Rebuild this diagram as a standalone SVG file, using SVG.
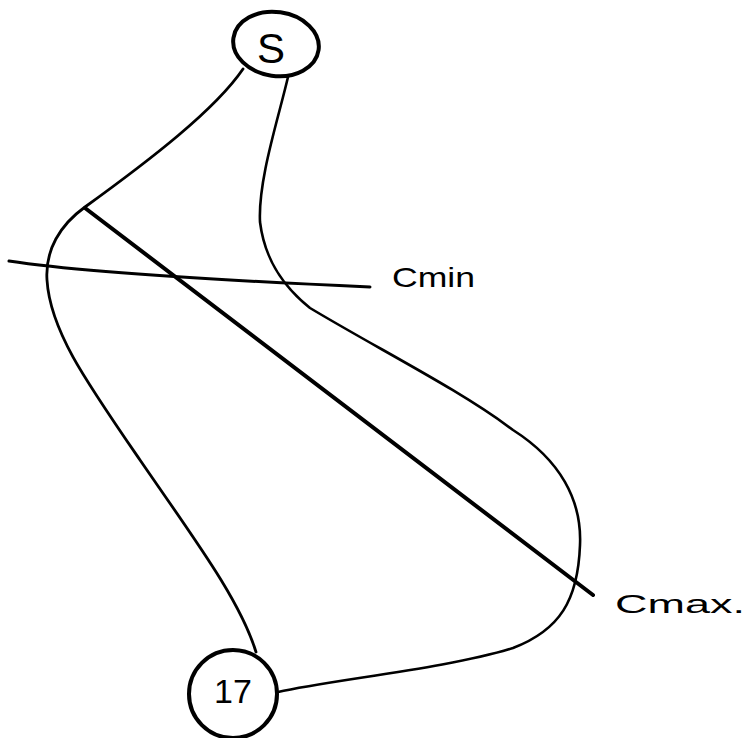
<svg xmlns="http://www.w3.org/2000/svg" width="753" height="738" viewBox="0 0 753 738">
<style>
.node{fill:none;stroke:#000;stroke-width:4}
.edge{fill:none;stroke:#000;stroke-width:2.6;stroke-linecap:round;stroke-linejoin:round}
.cut{fill:none;stroke:#000;stroke-linecap:round}
.lbl{font-family:"Liberation Sans",Arial,sans-serif;fill:#000}
</style>
<rect width="753" height="738" fill="#fff"/>
<g id="connectors">
<path class="edge" d="M 243 69 C 215 110, 150 160, 85 207 C 60 225, 45 250, 47 280 C 50 330, 85 380, 140 460 C 195 540, 240 600, 256 652" style="stroke-width:2.8"/>
<path class="edge" d="M 288 77 C 278 120, 258 180, 260 222 C 265 262, 285 288, 310 308 C 380 350, 460 390, 513 430 C 560 460, 582 500, 580 545 C 578 600, 560 630, 513 648 C 450 668, 330 680, 278 692"/>
</g>
<g id="cut-min">
<path class="cut" d="M 9 261 Q 100 275, 370 287" style="stroke-width:3"/>
<text class="lbl" x="392" y="287" font-size="28" textLength="83" lengthAdjust="spacingAndGlyphs">Cmin</text>
</g>
<g id="cut-max">
<path class="cut" d="M 85 208 L 593 595" style="stroke-width:4"/>
<text class="lbl" x="615" y="613" font-size="26" textLength="130" lengthAdjust="spacingAndGlyphs">Cmax.</text>
</g>
<g id="node-S">
<ellipse class="node" cx="276" cy="44" rx="43" ry="32" transform="rotate(8 276 44)"/>
<text class="lbl" x="271" y="63" font-size="42" text-anchor="middle">S</text>
</g>
<g id="node-17">
<circle class="node" cx="233" cy="694" r="44"/>
<text class="lbl" x="233" y="703" font-size="34" text-anchor="middle">17</text>
</g>
</svg>
